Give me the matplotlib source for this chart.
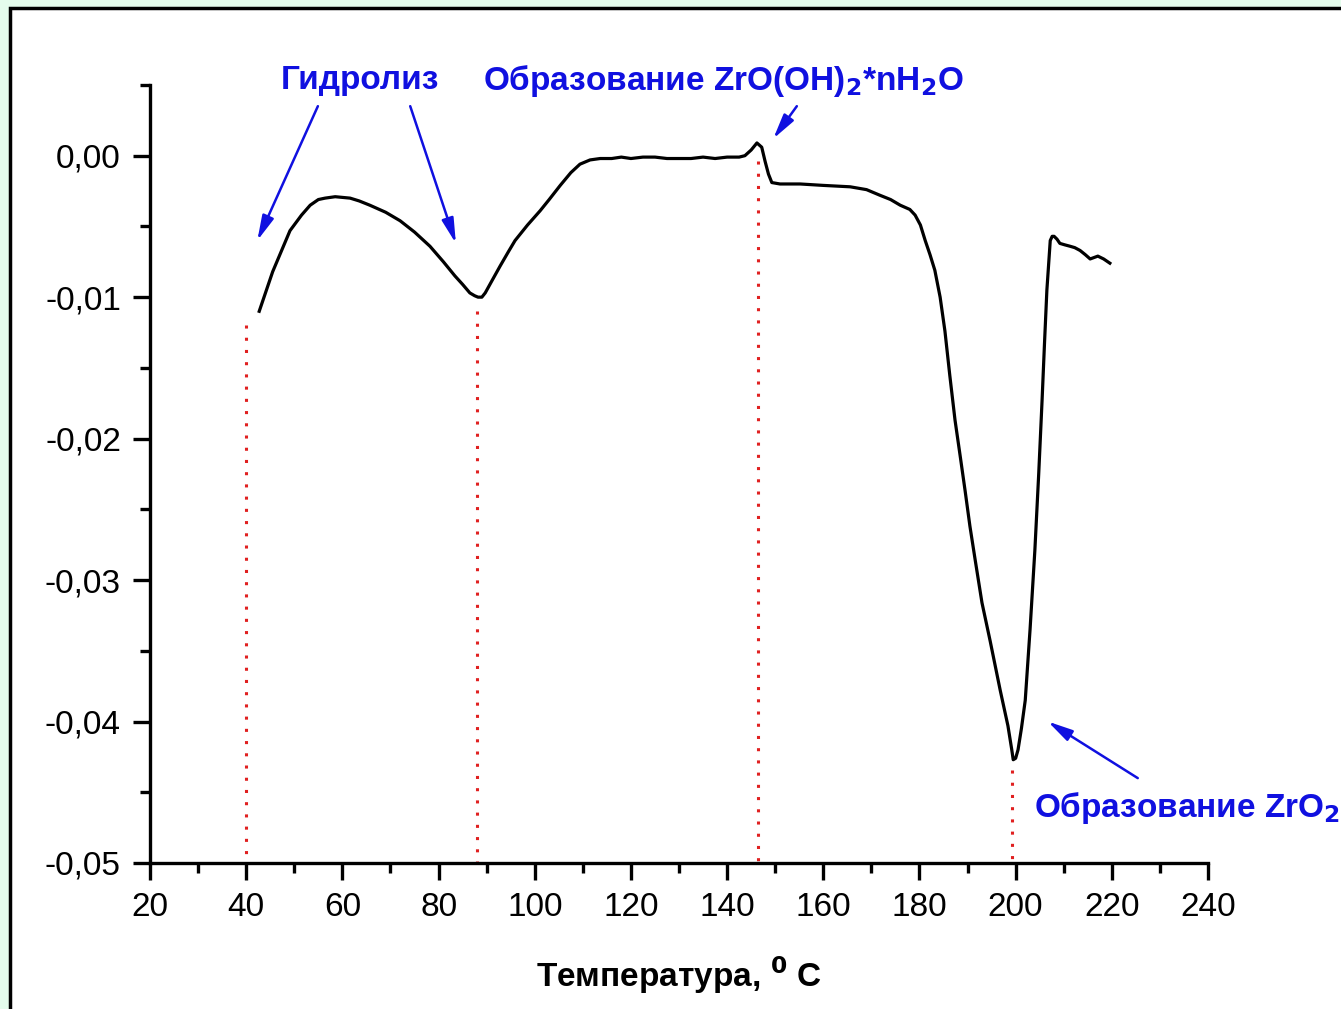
import numpy as np
import matplotlib
matplotlib.use("Agg")
import matplotlib.pyplot as plt
from matplotlib.ticker import MultipleLocator, FuncFormatter
from matplotlib.patches import Rectangle

# DTA curve
temp = [42.7, 45.5, 49.1, 51.5, 53.3, 55.0, 56.4, 58.5, 61.6, 63.5, 65.7, 69.0,
        72.0, 75.0, 78.2, 81.0, 83.4, 85.0, 86.5, 87.5, 88.2, 89.0, 89.7, 91.0,
        92.8, 94.5, 95.9, 98.5, 101.1, 103.0, 105.3, 107.5, 109.4, 111.5, 113.6,
        116.0, 118.0, 120.0, 122.5, 125.0, 127.5, 130.0, 132.5, 135.0, 137.5,
        140.0, 142.5, 143.7, 145.0, 146.2, 147.2, 147.9, 148.6, 149.3, 151.0,
        155.2, 160.0, 165.6, 169.0, 171.8, 174.0, 176.0, 178.0, 179.1, 180.2,
        181.2, 182.2, 183.2, 184.3, 185.3, 186.3, 187.4, 188.5, 189.5, 190.5,
        191.6, 193.0, 194.7, 196.8, 198.4, 199.2, 199.5, 200.0, 200.5, 201.2,
        202.0, 203.0, 204.0, 204.8, 205.5, 206.0, 206.5, 206.9, 207.2, 207.6,
        208.0, 208.6, 209.2, 210.2, 211.3, 212.3, 213.4, 214.5, 215.5, 216.3,
        217.1, 218.3, 219.6]
signal = [-0.0110, -0.0082, -0.0053, -0.0042, -0.0035, -0.0031, -0.0030, -0.0029,
          -0.0030, -0.0032, -0.0035, -0.0040, -0.0046, -0.0054, -0.0064, -0.0075,
          -0.0085, -0.0091, -0.0097, -0.0099, -0.0100, -0.0100, -0.0097, -0.0089,
          -0.0078, -0.0068, -0.0060, -0.0049, -0.0039, -0.0031, -0.0021, -0.0012,
          -0.0006, -0.0003, -0.0002, -0.0002, -0.0001, -0.0002, -0.0001, -0.0001,
          -0.0002, -0.0002, -0.0002, -0.0001, -0.0002, -0.0001, -0.0001, 0.0000,
          0.0004, 0.0009, 0.0006, -0.0004, -0.0013, -0.0019, -0.0020, -0.0020,
          -0.0021, -0.0022, -0.0024, -0.0028, -0.0031, -0.0035, -0.0038, -0.0042,
          -0.0049, -0.0060, -0.0070, -0.0081, -0.0100, -0.0124, -0.0155, -0.0187,
          -0.0213, -0.0237, -0.0262, -0.0286, -0.0316, -0.0343, -0.0378, -0.0403,
          -0.0420, -0.0427, -0.0426, -0.0420, -0.0405, -0.0385, -0.0335, -0.0279,
          -0.0225, -0.0173, -0.0133, -0.0095, -0.0075, -0.0060, -0.0057, -0.0057,
          -0.0059, -0.0062, -0.0063, -0.0064, -0.0065, -0.0067, -0.0070, -0.0073,
          -0.0072, -0.0071, -0.0073, -0.0076]

# peak markers (red dotted lines): x and top of the line
peak_x = [40.0, 88.0, 146.4, 199.2]
peak_top = [-0.0120, -0.0110, -0.0004, -0.0434]

plt.rcParams['font.family'] = ['Liberation Sans', 'DejaVu Sans']

fig = plt.figure(figsize=(13.41, 10.09), dpi=100)
fig.patch.set_facecolor('#e4fcec')
frame = Rectangle((0.0075, -0.01), 1.1, 1.002, transform=fig.transFigure,
                  facecolor='white', edgecolor='black', linewidth=2.5, zorder=-10)
fig.patches.append(frame)

ax = fig.add_axes([0.1119, 0.1447, 0.7889, 0.7711])
ax.set_facecolor('none')
ax.plot(temp, signal, color='black', linewidth=2.3)

for px, pt in zip(peak_x, peak_top):
    ax.plot([px, px], [pt, -0.05], color='#e02020', linestyle=(0, (1, 3)), linewidth=2.2)

blue = '#1010e0'
arrows = [((54.9, 0.0035), (42.3, -0.0060)),
          ((74.1, 0.0035), (83.6, -0.0062)),
          ((154.5, 0.0035), (149.6, 0.0012)),
          ((225.4, -0.0440), (206.7, -0.0400))]
for tail, head in arrows:
    ax.annotate('', xy=head, xytext=tail,
                arrowprops=dict(arrowstyle='-|>,head_length=0.75,head_width=0.18', color=blue,
                                lw=1.8, mutation_scale=20, shrinkA=0, shrinkB=0))

ax.text(63.7, 0.0053, 'Гидролиз', color=blue, fontsize=24, fontweight='bold',
        ha='center', va='center')
ax.text(139.3, 0.0053, 'Образование ZrO(OH)$_\\mathbf{2}$*nH$_\\mathbf{2}$O', color=blue,
        fontsize=24, fontweight='bold', ha='center', va='center')
ax.text(203.8, -0.0461, 'Образование ZrO$_\\mathbf{2}$', color=blue, fontsize=24,
        fontweight='bold', ha='left', va='center', clip_on=False)

ax.set_xlim(20, 240)
ax.set_ylim(-0.05, 0.005)
ax.xaxis.set_major_locator(MultipleLocator(20))
ax.xaxis.set_minor_locator(MultipleLocator(10))
ax.yaxis.set_major_locator(MultipleLocator(0.01))
ax.yaxis.set_minor_locator(MultipleLocator(0.005))
ax.yaxis.set_major_formatter(FuncFormatter(lambda v, p: ('%.2f' % v).replace('.', ',').replace('-0,00', '0,00')))

for s in ['top', 'right']:
    ax.spines[s].set_visible(False)
for s in ['left', 'bottom']:
    ax.spines[s].set_linewidth(2.4)
ax.tick_params(which='major', direction='out', length=12, width=2.4, labelsize=24, pad=9)
ax.tick_params(which='minor', direction='out', length=7, width=2.4)

ax.set_xlabel('Температура, $^\\mathbf{0}$ C', fontsize=24, fontweight='bold', labelpad=22)

fig.savefig('out.png', dpi=100, facecolor=fig.get_facecolor())
